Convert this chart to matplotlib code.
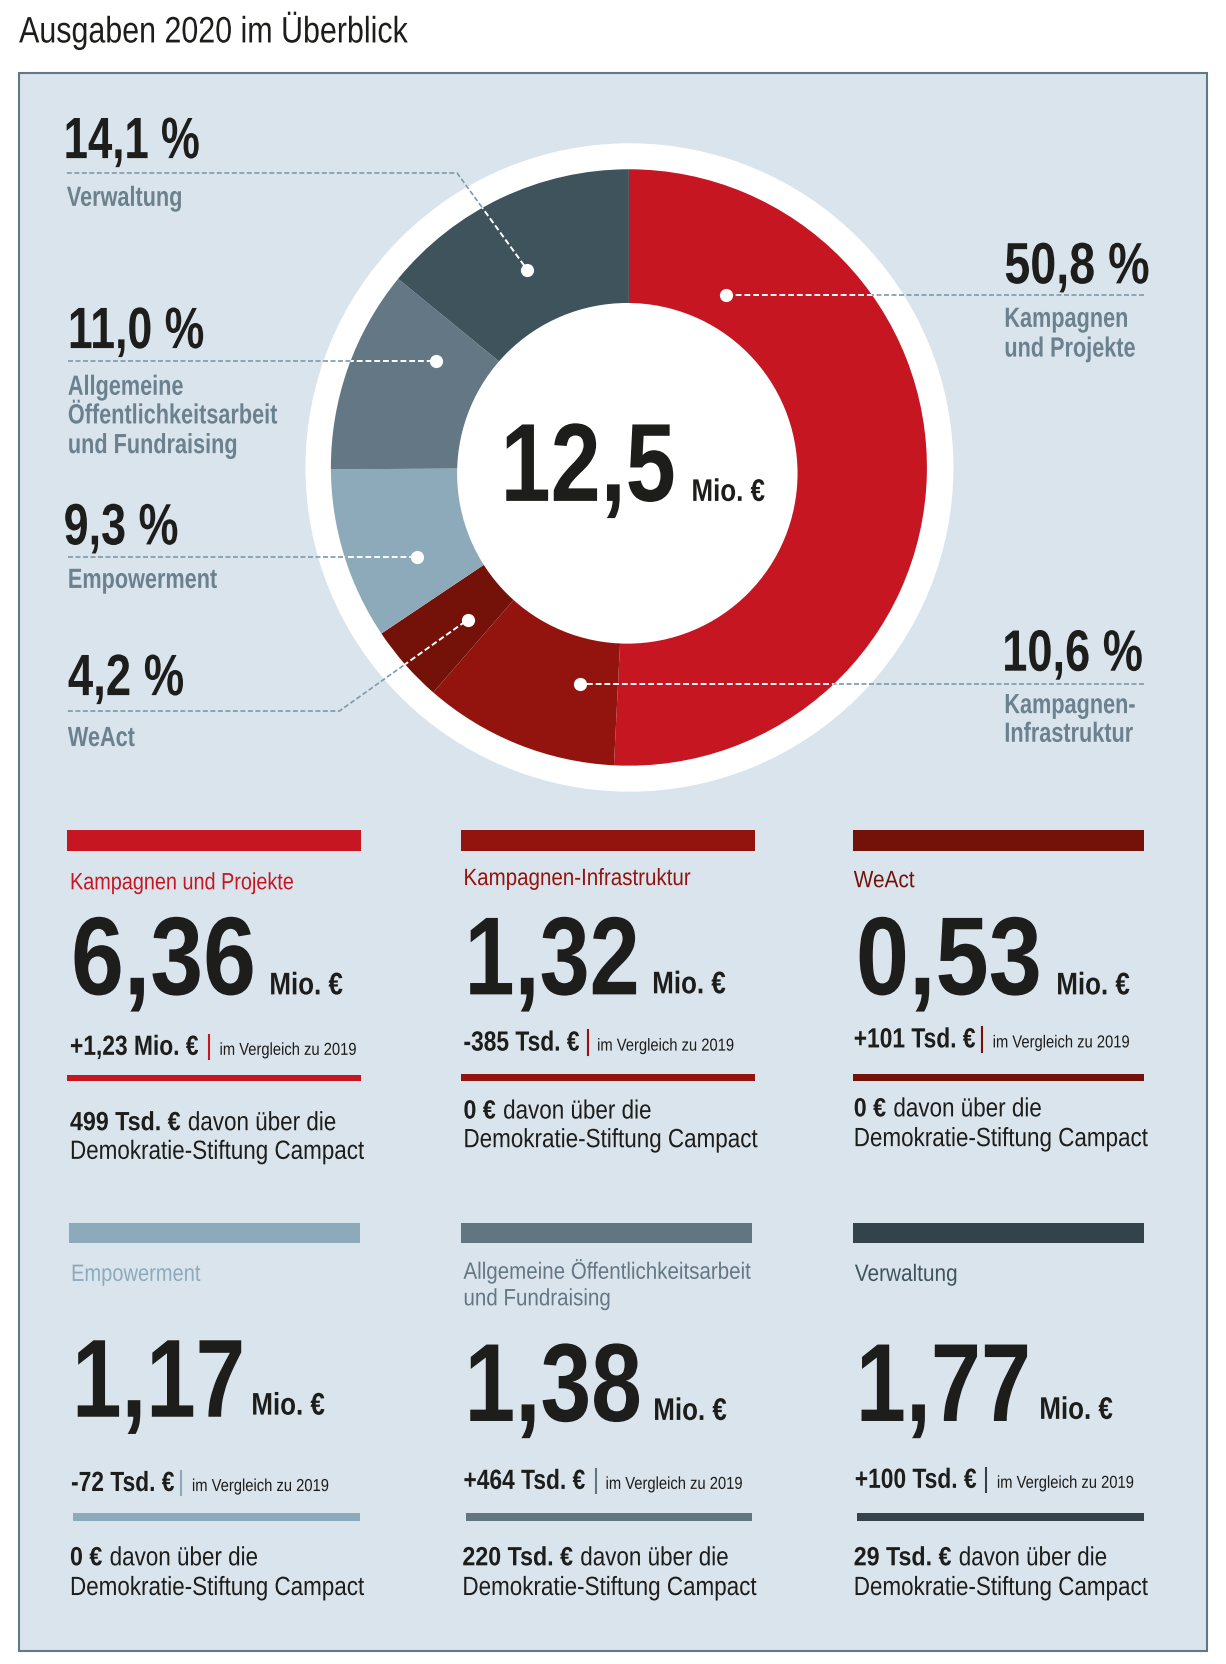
import matplotlib
matplotlib.use("Agg")
import matplotlib.pyplot as plt
from matplotlib.patches import Rectangle, Circle
from matplotlib.patheffects import AbstractPathEffect
from matplotlib.text import Text
from matplotlib.transforms import Affine2D, Bbox

plt.rcParams['font.family'] = ['Liberation Sans', 'DejaVu Sans']

# Daten
kategorien = ["Kampagnen und Projekte", "Kampagnen-Infrastruktur", "WeAct", "Empowerment",
              "Allgemeine Öffentlichkeitsarbeit\nund Fundraising", "Verwaltung"]
anteile = [50.8, 10.6, 4.2, 9.3, 11.0, 14.1]
farben = ['#c61622', '#93140f', '#74120a', '#8daaba', '#647784', '#3f535d']
balken_farben = ['#c61622', '#93140f', '#74120a', '#8daaba', '#627682', '#34424c']
gesamt = "12,5"
werte = ["6,36", "1,32", "0,53", "1,17", "1,38", "1,77"]
aenderungen = ["+1,23 Mio. €", "-385 Tsd. €", "+101 Tsd. €", "-72 Tsd. €", "+464 Tsd. €", "+100 Tsd. €"]
davon = ["499 Tsd. €", "0 €", "0 €", "0 €", "220 Tsd. €", "29 Tsd. €"]
prozent_texte = ["50,8 %", "10,6 %", "4,2 %", "9,3 %", "11,0 %", "14,1 %"]
donut_namen = ["Kampagnen\nund Projekte", "Kampagnen-\nInfrastruktur", "WeAct", "Empowerment",
               "Allgemeine\nÖffentlichkeitsarbeit\nund Fundraising", "Verwaltung"]

DUNKEL = '#1d1d1b'
GRAU = '#6c818e'
LINIE = '#7f9aa9'
HG = '#dae4ec'

# Achse in Bildkoordinaten der Vorlage
fig = plt.figure(figsize=(12.26, 16.64), dpi=100)
ax = fig.add_axes([0, 0, 1, 1])


# Keine schmale Schrift installiert, also wird der Text beim Zeichnen gestaucht
class Stauchen(AbstractPathEffect):
    def __init__(self, text, fx):
        super().__init__()
        self.text = text
        self.fx = fx

    def draw_path(self, renderer, gc, tpath, affine, rgbFace=None):
        x0 = self.text.get_transform().transform(self.text.get_position())[0]
        a = affine + Affine2D().translate(-x0, 0).scale(self.fx, 1).translate(x0, 0)
        renderer.draw_path(gc, tpath, a, rgbFace)


class SchmalText(Text):
    def __init__(self, *args, fx=0.83, **kw):
        super().__init__(*args, **kw)
        self.fx = fx
        self.set_path_effects([Stauchen(self, fx)])

    def get_window_extent(self, renderer=None, dpi=None):
        bb = super().get_window_extent(renderer, dpi)
        return Bbox.from_extents(bb.x0, bb.y0, bb.x0 + bb.width * self.fx, bb.y1)


def txt(x, y, s, size, weight='normal', color=DUNKEL, fx=0.83):
    t = SchmalText(x, y, s, fx=fx, fontsize=size, fontweight=weight, color=color,
                   ha='left', va='baseline', zorder=10, transform=ax.transData)
    ax.add_artist(t)
    return t


def rechts_von(t, abstand=0):
    # x-Position rechts neben einem Text
    box = t.get_window_extent(fig.canvas.get_renderer())
    return ax.transData.inverted().transform((box.x1, box.y0))[0] + abstand


# Donut
cx, cy, r = 593, 440.5, 281
wedges, _ = ax.pie(anteile, colors=farben, startangle=-90, counterclock=True,
                   center=(cx, cy), radius=r, frame=True,
                   wedgeprops={'linewidth': 0, 'zorder': 3})
ax.set_aspect('auto')
ax.set_xlim(0, 1156)
ax.set_ylim(1568, 0)
ax.axis('off')

ax.add_patch(Rectangle((18, 69), 1120, 1487, facecolor=HG, edgecolor='#5f7a85', linewidth=1.5, zorder=0))
ax.add_patch(Circle((593.5, 440.5), 305.5, facecolor='white', edgecolor='none', zorder=1))
ax.add_patch(Circle((591.5, 446), 160.5, facecolor='white', edgecolor='none', zorder=4))

txt(18, 40, "Ausgaben 2020 im Überblick", 26.5, fx=0.826)
txt(472, 472, gesamt, 80, 'bold', fx=0.81)
txt(652, 472, "Mio. €", 22.5, 'bold')

# Beschriftung am Donut: Position Prozent, Stauchung, Name, Linie (x, y), Punkt
beschriftung = [
    (947, 267, 0.80, 947, [308, 336], [(1079, 278), (685, 278)]),
    (945, 632, 0.775, 947, [672, 699], [(1079, 645), (547, 645)]),
    (64, 655, 0.78, 64, [703], [(64, 670), (320, 670), (441, 584)]),
    (60, 513, 0.77, 64, [554], [(64, 525), (393, 525)]),
    (64, 328, 0.765, 64, [372, 399, 427], [(64, 340), (411, 340)]),
    (60, 149, 0.75, 63, [194], [(63, 163), (431, 163), (497, 254)]),
]
ring = Circle((cx, cy), r, transform=ax.transData)
for i, (px, py, pfx, nx, ny, pfad) in enumerate(beschriftung):
    txt(px, py, prozent_texte[i], 42, 'bold', fx=pfx)
    for zeile, y in zip(donut_namen[i].split("\n"), ny):
        txt(nx, y, zeile, 20, 'bold', GRAU, fx=0.78)
    xs = [p[0] for p in pfad]
    ys = [p[1] for p in pfad]
    ax.plot(xs, ys, color=LINIE, lw=1.2, ls=(0, (3, 1.5)), zorder=2)
    weiss, = ax.plot(xs, ys, color='white', lw=1.4, ls=(0, (3, 1.5)), zorder=5)
    weiss.set_clip_path(ring)
    ax.plot(xs[-1], ys[-1], 'o', color='white', ms=9.5, mew=0, zorder=6)

# Karten: Balken x0/x1, y; Titel (x, y, Stauchung); Zahl (mit Stauchung); Mio; Vergleich; Trennstrich; Linie; davon
karten = [
    dict(b=(63, 340, 782, 802), t=(66, [838], 0.84), n=(67, 937, 0.855), m=(254, 937), c=(66, 994), s=197, v=207,
         l=(63, 340, 1013, 1019), d=(66, 1065, 1092)),
    dict(b=(435, 712, 782, 802), t=(437, [834], 0.87), n=(438, 937, 0.81), m=(615, 936), c=(437, 990), s=554, v=563,
         l=(435, 712, 1012, 1019), d=(437, 1054, 1081)),
    dict(b=(804, 1079, 782, 802), t=(805, [836], 0.88), n=(807, 937, 0.86), m=(996, 937), c=(805, 987), s=926, v=936,
         l=(804, 1079, 1012, 1019), d=(805, 1052, 1080)),
    dict(b=(65, 339, 1152, 1171), t=(67, [1207], 0.85), n=(68, 1335, 0.80), m=(237, 1333), c=(67, 1405), s=171, v=181,
         l=(69, 339, 1426, 1433), d=(66, 1475, 1503)),
    dict(b=(435, 709, 1152, 1171), t=(437, [1205, 1230], 0.87), n=(438, 1339, 0.82), m=(616, 1338), c=(437, 1403), s=562, v=571,
         l=(439, 709, 1426, 1433), d=(436, 1475, 1503)),
    dict(b=(804, 1079, 1152, 1171), t=(806, [1207], 0.88), n=(807, 1339, 0.81), m=(980, 1337), c=(806, 1402), s=930, v=940,
         l=(808, 1079, 1426, 1433), d=(805, 1475, 1503)),
]

for i, k in enumerate(karten):
    f = balken_farben[i]
    x0, x1, y0, y1 = k['b']
    ax.add_patch(Rectangle((x0, y0), x1 - x0, y1 - y0, facecolor=f, edgecolor='none', zorder=2))
    for zeile, y in zip(kategorien[i].split("\n"), k['t'][1]):
        txt(k['t'][0], y, zeile, 17, color=farben[i], fx=k['t'][2])
    txt(k['n'][0], k['n'][1], werte[i], 80, 'bold', fx=k['n'][2])
    txt(k['m'][0], k['m'][1], "Mio. €", 22.5, 'bold')
    txt(k['c'][0], k['c'][1], aenderungen[i], 20, 'bold', fx=0.82)
    ax.plot([k['s'], k['s']], [k['c'][1] - 19, k['c'][1] + 4], color=f, lw=1.5, zorder=3)
    txt(k['v'], k['c'][1], "im Vergleich zu 2019", 12.5, fx=0.85)
    x0, x1, y0, y1 = k['l']
    ax.add_patch(Rectangle((x0, y0), x1 - x0, y1 - y0, facecolor=f, edgecolor='none', zorder=2))
    dx, dy1, dy2 = k['d']
    fett = txt(dx, dy1, davon[i], 19, 'bold', fx=0.88)
    txt(rechts_von(fett, 7), dy1, "davon über die", 19, fx=0.85)
    txt(dx, dy2, "Demokratie-Stiftung Campact", 19, fx=0.85)

fig.savefig("out.png", dpi=100)
